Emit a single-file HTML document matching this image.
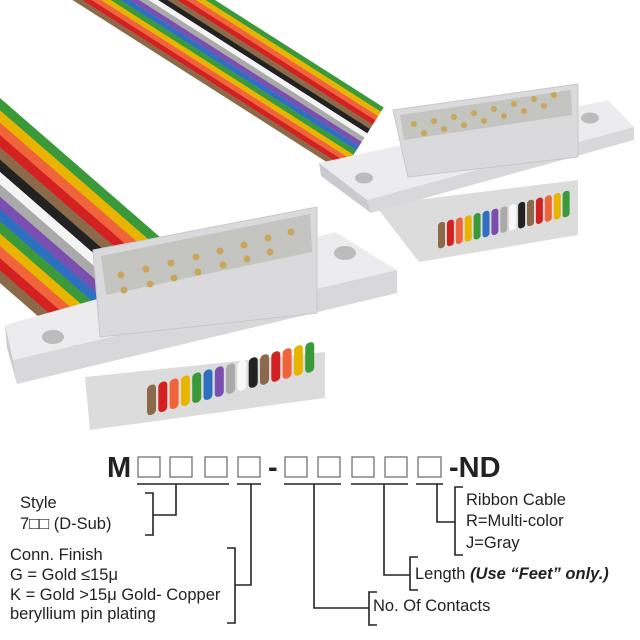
<!DOCTYPE html>
<html><head><meta charset="utf-8"><style>
html,body{margin:0;padding:0;background:#fff;}
svg{display:block;}
text{font-family:"Liberation Sans",Arial,sans-serif;fill:#222;}
</style></head><body>
<svg width="640" height="640" viewBox="0 0 640 640" xmlns="http://www.w3.org/2000/svg">
<!-- back cable -->
<g transform="translate(215,0) rotate(32.5)">
<rect x="-300" y="0" width="500" height="5.2" fill="#3a9a3a"/>
<rect x="-300" y="5.1" width="500" height="5.2" fill="#e8b400"/>
<rect x="-300" y="10.2" width="500" height="5.2" fill="#f0643c"/>
<rect x="-300" y="15.3" width="500" height="5.2" fill="#d32020"/>
<rect x="-300" y="20.4" width="500" height="5.2" fill="#8b6a4a"/>
<rect x="-300" y="25.5" width="500" height="5.2" fill="#222"/>
<rect x="-300" y="30.6" width="500" height="5.2" fill="#f4f4f4"/>
<rect x="-300" y="35.7" width="500" height="5.2" fill="#aaa"/>
<rect x="-300" y="40.8" width="500" height="5.2" fill="#7a4fb0"/>
<rect x="-300" y="45.9" width="500" height="5.2" fill="#2f6fc0"/>
<rect x="-300" y="51" width="500" height="5.2" fill="#3a9a3a"/>
<rect x="-300" y="56.1" width="500" height="5.2" fill="#e8b400"/>
<rect x="-300" y="61.2" width="500" height="5.2" fill="#f0643c"/>
<rect x="-300" y="66.3" width="500" height="5.2" fill="#d32020"/>
<rect x="-300" y="71.4" width="500" height="5.2" fill="#8b6a4a"/>
</g>
<!-- front cable -->
<g transform="translate(0,98) rotate(41)">
<rect x="-300" y="0" width="520" height="9.5" fill="#3a9a3a"/>
<rect x="-300" y="9.3" width="520" height="9.5" fill="#e8b400"/>
<rect x="-300" y="18.6" width="520" height="9.5" fill="#f0643c"/>
<rect x="-300" y="27.9" width="520" height="9.5" fill="#d32020"/>
<rect x="-300" y="37.2" width="520" height="9.5" fill="#8b6a4a"/>
<rect x="-300" y="46.5" width="520" height="9.5" fill="#222"/>
<rect x="-300" y="55.8" width="520" height="9.5" fill="#f4f4f4"/>
<rect x="-300" y="65.1" width="520" height="9.5" fill="#aaa"/>
<rect x="-300" y="74.4" width="520" height="9.5" fill="#7a4fb0"/>
<rect x="-300" y="83.7" width="520" height="9.5" fill="#2f6fc0"/>
<rect x="-300" y="93" width="520" height="9.5" fill="#3a9a3a"/>
<rect x="-300" y="102.3" width="520" height="9.5" fill="#e8b400"/>
<rect x="-300" y="111.6" width="520" height="9.5" fill="#f0643c"/>
<rect x="-300" y="120.9" width="520" height="9.5" fill="#d32020"/>
<rect x="-300" y="130.2" width="520" height="9.5" fill="#8b6a4a"/>
</g>
<!-- RIGHT CONNECTOR -->
<polygon points="375,205 578,180 578,235 419,262" fill="#dcdcdc"/>
<polygon points="319,163 608,100 634,127 367,200" fill="#ececee"/>
<polygon points="367,200 634,127 634,140 371,213" fill="#d8d8db"/>
<polygon points="319,163 367,200 371,213 321,176" fill="#cbcbcf"/>
<ellipse cx="364" cy="178" rx="9" ry="5.5" fill="#bcbcbc"/>
<ellipse cx="590" cy="118" rx="9" ry="5.5" fill="#bcbcbc"/>
<polygon points="393,110 578,84 578,157 408,177" fill="#dadadc" stroke="#c8c8ca"/>
<polygon points="400,115 571,90 572,115 404,140" fill="#c4c4c0"/>
<g fill="#c9a65a">
<circle cx="414" cy="124" r="3"/><circle cx="434" cy="121" r="3"/><circle cx="454" cy="117" r="3"/><circle cx="474" cy="113" r="3"/><circle cx="494" cy="109" r="3"/><circle cx="514" cy="104" r="3"/><circle cx="534" cy="99" r="3"/><circle cx="554" cy="95" r="3"/>
<circle cx="424" cy="133" r="3"/><circle cx="444" cy="129" r="3"/><circle cx="464" cy="125" r="3"/><circle cx="484" cy="121" r="3"/><circle cx="504" cy="116" r="3"/><circle cx="524" cy="111" r="3"/><circle cx="544" cy="106" r="3"/>
</g>
<g transform="translate(438,223) skewY(-14)">
<rect x="0" y="0" width="7" height="26" rx="3" fill="#8b6a4a"/>
<rect x="8.9" y="0" width="7" height="26" rx="3" fill="#d32020"/>
<rect x="17.8" y="0" width="7" height="26" rx="3" fill="#f0643c"/>
<rect x="26.7" y="0" width="7" height="26" rx="3" fill="#e8b400"/>
<rect x="35.6" y="0" width="7" height="26" rx="3" fill="#3a9a3a"/>
<rect x="44.5" y="0" width="7" height="26" rx="3" fill="#2f6fc0"/>
<rect x="53.4" y="0" width="7" height="26" rx="3" fill="#7a4fb0"/>
<rect x="62.3" y="0" width="7" height="26" rx="3" fill="#aaa"/>
<rect x="71.2" y="0" width="7" height="26" rx="3" fill="#f8f8f8"/>
<rect x="80.1" y="0" width="7" height="26" rx="3" fill="#222"/>
<rect x="89" y="0" width="7" height="26" rx="3" fill="#8b6a4a"/>
<rect x="97.9" y="0" width="7" height="26" rx="3" fill="#d32020"/>
<rect x="106.8" y="0" width="7" height="26" rx="3" fill="#f0643c"/>
<rect x="115.7" y="0" width="7" height="26" rx="3" fill="#e8b400"/>
<rect x="124.6" y="0" width="7" height="26" rx="3" fill="#3a9a3a"/>
</g>
<!-- LEFT CONNECTOR -->
<polygon points="85,377 325,352 325,398 90,430" fill="#dcdcdc"/>
<polygon points="5,325 335,232 397,270 13,360" fill="#ececee"/>
<polygon points="13,360 397,270 397,293 17,384" fill="#d8d8db"/>
<polygon points="5,325 13,360 17,384 7,348" fill="#cbcbcf"/>
<ellipse cx="53" cy="337" rx="11" ry="7" fill="#bcbcbc"/>
<ellipse cx="345" cy="253" rx="11" ry="7" fill="#bcbcbc"/>
<polygon points="93,250 317,207 317,313 100,337" fill="#dadadc" stroke="#c8c8ca"/>
<polygon points="101,256 310,214 312,252 106,295" fill="#c4c4c0"/>
<g fill="#c9a65a">
<circle cx="121" cy="275" r="3.5"/><circle cx="146" cy="269" r="3.5"/><circle cx="171" cy="263" r="3.5"/><circle cx="196" cy="257" r="3.5"/><circle cx="220" cy="251" r="3.5"/><circle cx="244" cy="245" r="3.5"/><circle cx="268" cy="238" r="3.5"/><circle cx="291" cy="232" r="3.5"/>
<circle cx="124" cy="290" r="3.5"/><circle cx="150" cy="284" r="3.5"/><circle cx="174" cy="278" r="3.5"/><circle cx="198" cy="272" r="3.5"/><circle cx="223" cy="265" r="3.5"/><circle cx="247" cy="259" r="3.5"/><circle cx="270" cy="252" r="3.5"/>
</g>
<g transform="translate(147,386) skewY(-15)">
<rect x="0" y="0" width="9" height="30" rx="4" fill="#8b6a4a"/>
<rect x="11.3" y="0" width="9" height="30" rx="4" fill="#d32020"/>
<rect x="22.6" y="0" width="9" height="30" rx="4" fill="#f0643c"/>
<rect x="33.9" y="0" width="9" height="30" rx="4" fill="#e8b400"/>
<rect x="45.2" y="0" width="9" height="30" rx="4" fill="#3a9a3a"/>
<rect x="56.5" y="0" width="9" height="30" rx="4" fill="#2f6fc0"/>
<rect x="67.8" y="0" width="9" height="30" rx="4" fill="#7a4fb0"/>
<rect x="79.1" y="0" width="9" height="30" rx="4" fill="#aaa"/>
<rect x="90.4" y="0" width="9" height="30" rx="4" fill="#f8f8f8"/>
<rect x="101.7" y="0" width="9" height="30" rx="4" fill="#222"/>
<rect x="113" y="0" width="9" height="30" rx="4" fill="#8b6a4a"/>
<rect x="124.3" y="0" width="9" height="30" rx="4" fill="#d32020"/>
<rect x="135.6" y="0" width="9" height="30" rx="4" fill="#f0643c"/>
<rect x="146.9" y="0" width="9" height="30" rx="4" fill="#e8b400"/>
<rect x="158.2" y="0" width="9" height="30" rx="4" fill="#3a9a3a"/>
</g>

<!-- PART NUMBER -->
<text x="107" y="477" font-size="29" font-weight="bold">M</text>
<g fill="none" stroke="#666" stroke-width="1.2">
<rect x="138" y="457" width="22" height="20"/><rect x="170" y="457" width="22" height="20"/><rect x="205" y="457" width="22" height="20"/><rect x="238" y="457" width="22" height="20"/>
<rect x="285" y="457" width="22" height="20"/><rect x="318" y="457" width="22" height="20"/><rect x="352" y="457" width="22" height="20"/><rect x="385" y="457" width="22" height="20"/><rect x="418" y="457" width="23" height="20"/>
</g>
<text x="268" y="477" font-size="29" font-weight="bold">-</text>
<text x="449" y="477" font-size="29" font-weight="bold">-ND</text>
<g fill="none" stroke="#222" stroke-width="1.6">
<path d="M137 484H229 M237 484H261 M284 484H341 M351 484H408 M416 484H443"/>
<path d="M176 484V515H153 M145 493H153V535H145"/>
<path d="M251 484V585H235 M227 548H235V623H227"/>
<path d="M314 484V608H369 M377 592H369V625H377"/>
<path d="M384 484V575H410 M418 557H410V590H418"/>
<path d="M437 484V522H455 M463 487H455V555H463"/>
</g>
<g font-size="16.5">
<text x="20" y="508">Style</text>
<text x="20" y="529">7□□ (D-Sub)</text>
<text x="10" y="560">Conn. Finish</text>
<text x="10" y="580">G = Gold ≤15μ</text>
<text x="10" y="600">K = Gold &gt;15μ Gold- Copper</text>
<text x="10" y="619">beryllium pin plating</text>
<text x="373" y="611">No. Of Contacts</text>
<text x="415" y="579">Length <tspan font-weight="bold" font-style="italic">(Use “Feet” only.)</tspan></text>
<text x="466" y="505">Ribbon Cable</text>
<text x="466" y="526">R=Multi-color</text>
<text x="466" y="548">J=Gray</text>
</g>
</svg>
</body></html>
